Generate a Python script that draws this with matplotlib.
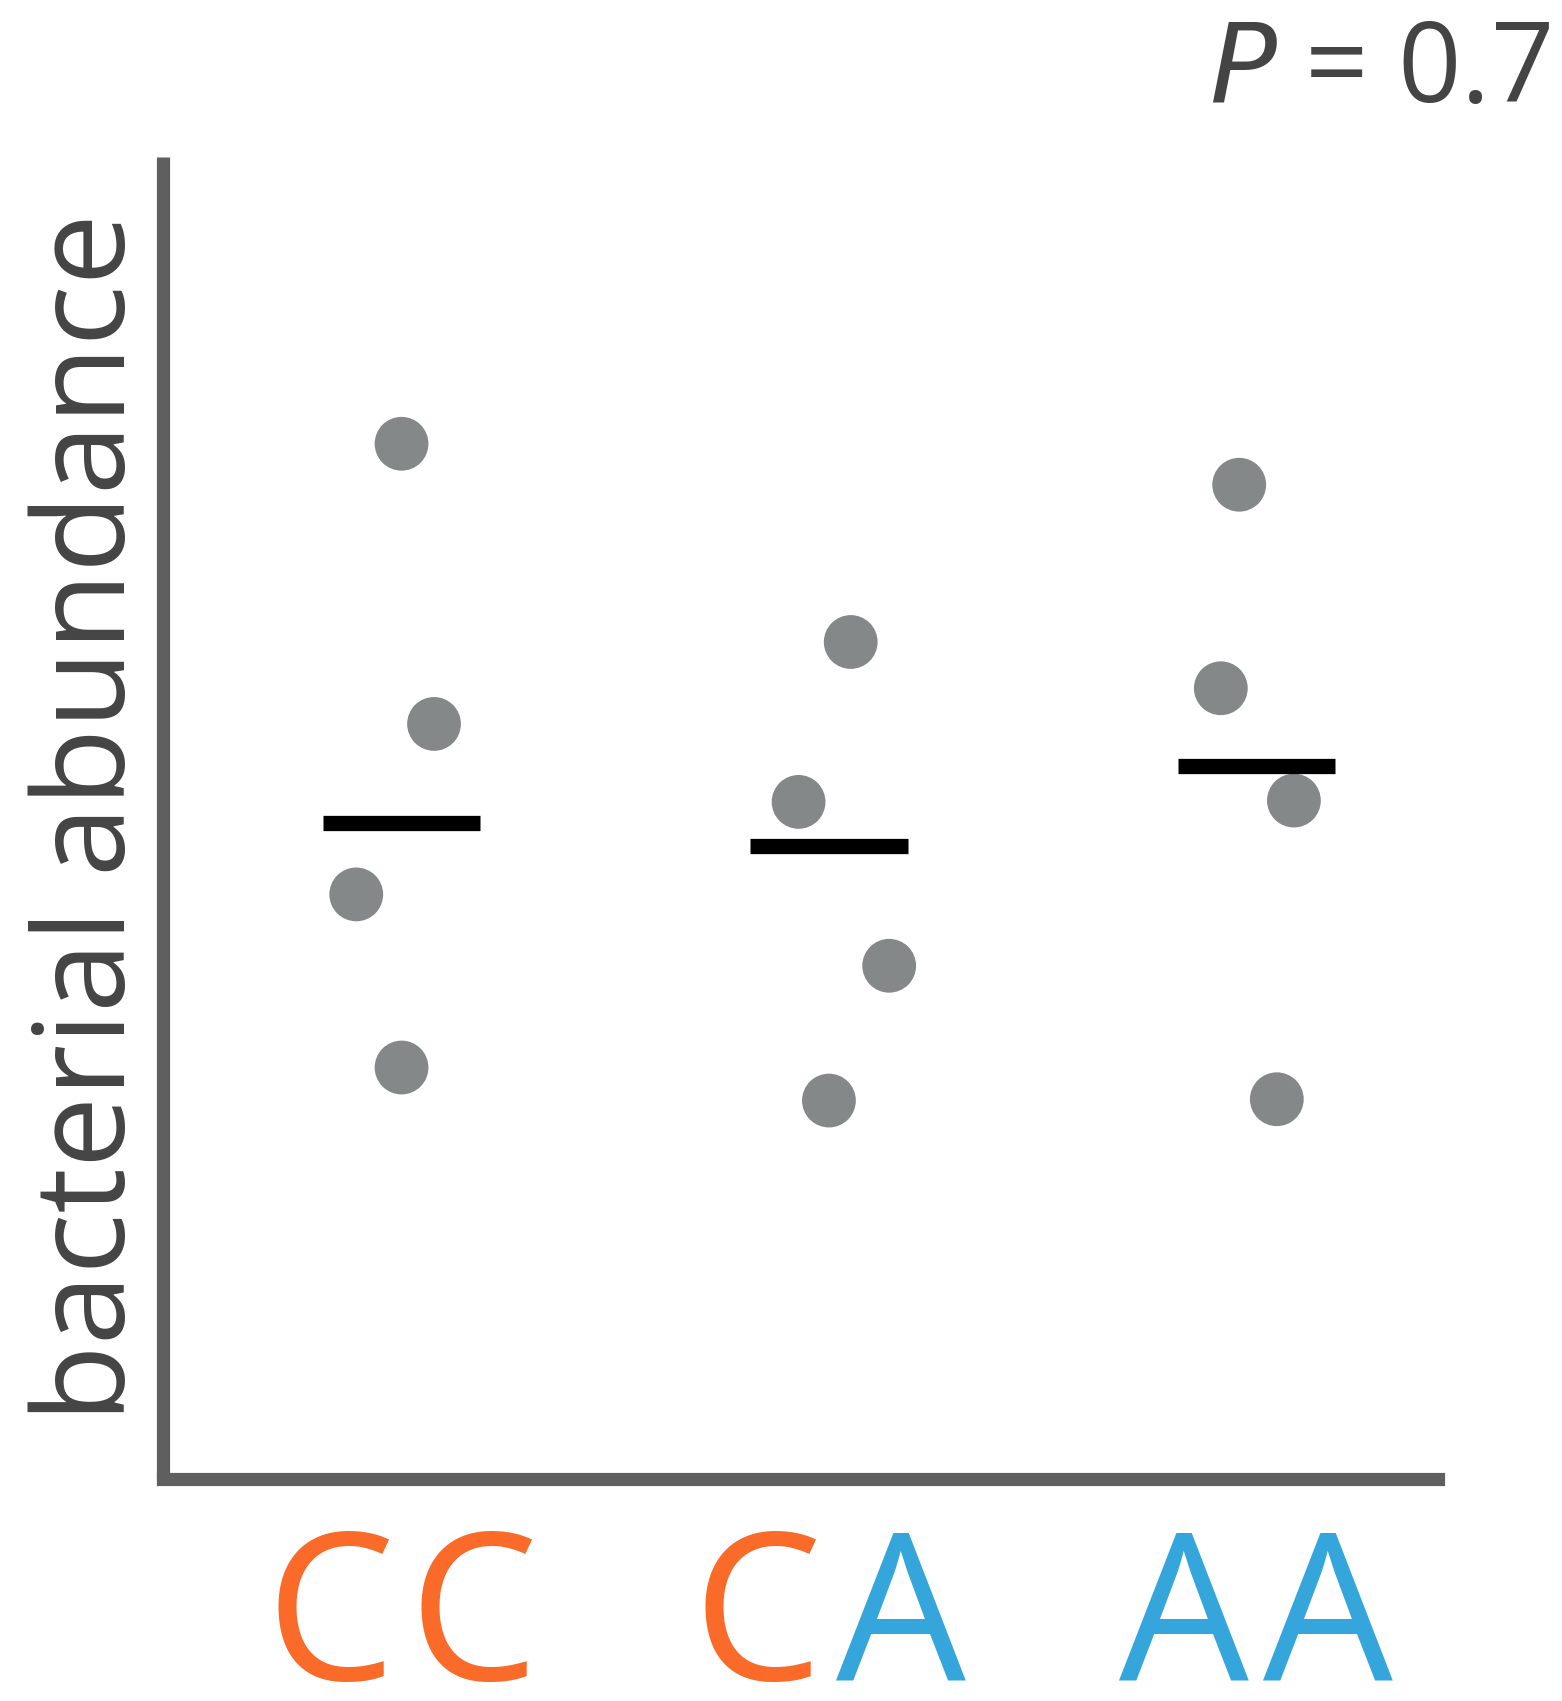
import matplotlib
matplotlib.use("Agg")
import matplotlib.pyplot as plt
from matplotlib.offsetbox import TextArea, HPacker, AnnotationBbox

# Genotype groups and per-sample abundance (arbitrary units)
genotypes = ["CC", "CA", "AA"]
abundance = {
    "CC": [78.3, 57.1, 44.2, 31.1],
    "CA": [63.3, 51.2, 38.8, 28.6],
    "AA": [75.2, 59.8, 51.3, 28.7],
}
# horizontal jitter of each sample within its group
jitter = {
    "CC": [0.0, 0.076, -0.106, 0.0],
    "CA": [0.051, -0.071, 0.141, 0.0],
    "AA": [-0.040, -0.083, 0.088, 0.048],
}
group_center = [49.6, 47.9, 53.9]
p_value_text = "0.7"

allele_colors = {"C": "#fa6b2a", "A": "#35a6dc"}
axis_color = "#5f5f5f"
text_color = "#444444"
dot_color = "#858888"

plt.rcParams["font.family"] = ["Open Sans", "DejaVu Sans"]

fig = plt.figure(figsize=(15.62, 17.01), dpi=100)
ax = fig.add_axes([0.1044, 0.1308, 0.8159, 0.7769])

for i, g in enumerate(genotypes):
    xs = [i + j for j in jitter[g]]
    ax.scatter(xs, abundance[g], s=1500, color=dot_color, edgecolors="none", zorder=2)
    ax.plot([i - 0.184, i + 0.184], [group_center[i]] * 2, color="black",
            lw=11, solid_capstyle="butt", zorder=3)

ax.set_xlim(-0.558, 2.424)
ax.set_ylim(0, 100)
ax.set_xticks([])
ax.set_yticks([])
for side in ("top", "right"):
    ax.spines[side].set_visible(False)
for side in ("left", "bottom"):
    ax.spines[side].set_color(axis_color)
    ax.spines[side].set_linewidth(9.5)
ax.spines["left"].set_capstyle("butt")

ax.set_ylabel("bacterial abundance", fontsize=91.5, color=text_color, labelpad=6)

# genotype labels with each allele in its own colour
for i, g in enumerate(genotypes):
    parts = [TextArea(ch, textprops=dict(color=allele_colors[ch], fontsize=148))
             for ch in g]
    box = HPacker(children=parts, align="baseline", pad=0, sep=10)
    ab = AnnotationBbox(box, (i, 0), xybox=(0, -33), xycoords=("data", "axes fraction"),
                        boxcoords="offset points", box_alignment=(0.5, 1.0),
                        frameon=False, annotation_clip=False)
    ax.add_artist(ab)

fig.text(0.992, 0.99, r"$\it{P}$" + " = " + p_value_text, ha="right", va="top",
         fontsize=80, color=text_color)

fig.savefig("out.png", dpi=100, facecolor="white")
